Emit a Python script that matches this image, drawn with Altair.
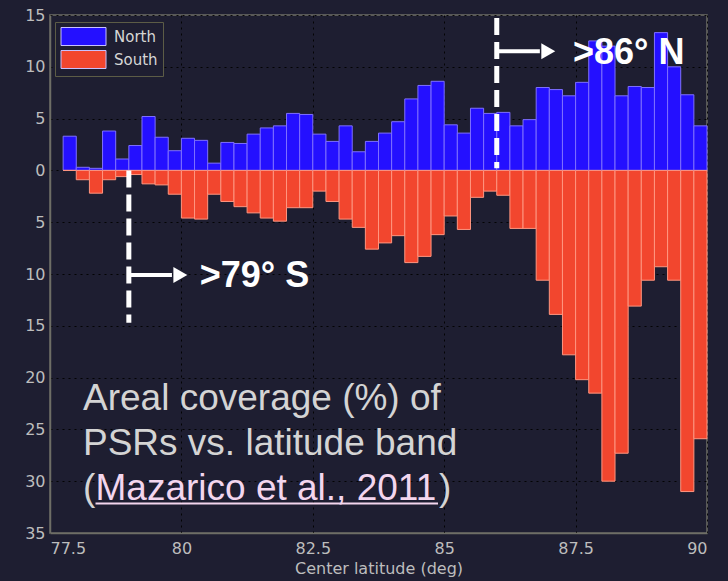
import altair as alt
import pandas as pd

# Centre latitude of each 0.25-degree band
band_center = [
    77.875, 78.125, 78.375, 78.625, 78.875, 79.125, 79.375, 79.625, 79.875,
    80.125, 80.375, 80.625, 80.875, 81.125, 81.375, 81.625, 81.875,
    82.125, 82.375, 82.625, 82.875, 83.125, 83.375, 83.625, 83.875,
    84.125, 84.375, 84.625, 84.875, 85.125, 85.375, 85.625, 85.875,
    86.125, 86.375, 86.625, 86.875, 87.125, 87.375, 87.625, 87.875,
    88.125, 88.375, 88.625, 88.875, 89.125, 89.375, 89.625, 89.875,
]

# Areal coverage of permanently shadowed regions (%) per band
north = [
    3.3, 0.3, 0.2, 3.8, 1.1, 2.4, 5.2, 3.2, 1.9,
    3.1, 2.9, 0.7, 2.7, 2.6, 3.5, 4.1, 4.3,
    5.5, 5.4, 3.5, 2.8, 4.3, 1.8, 2.8, 3.6,
    4.7, 6.9, 8.2, 8.6, 4.4, 3.6, 6.0, 5.5,
    5.6, 4.3, 4.9, 8.0, 7.8, 7.2, 8.5, 12.5,
    12.0, 7.2, 8.1, 8.0, 13.3, 10.0, 7.3, 4.3,
]
south = [
    0.0, 0.9, 2.2, 0.9, 0.6, 0.4, 1.3, 1.4, 2.3,
    4.6, 4.7, 2.3, 3.0, 3.5, 4.1, 4.6, 4.9,
    3.6, 3.6, 2.0, 3.0, 4.7, 5.5, 7.6, 7.0,
    6.3, 8.9, 8.3, 6.2, 4.4, 5.7, 2.6, 2.0,
    2.4, 5.6, 5.6, 10.6, 13.9, 17.8, 20.2, 21.5,
    30.0, 27.3, 13.1, 10.6, 9.3, 10.6, 31.0, 25.9,
]

band_width = 0.25
series_names = ["North", "South"]
fill_colors = ["#2410ff", "#f2462e"]
edge_colors = ["#7f70ff", "#ff9680"]

# Threshold markers: latitude, dashed extent, arrow height, label
marker_lat = [86.0, 79.0]
marker_top = [14.7, 0.0]
marker_bottom = [0.2, -14.7]
arrow_y = [11.5, -10.1]
arrow_len = [0.82, 0.82]
label_lat = [87.45, 80.35]
label_y = [10.25, -11.3]
marker_text = [">86° N", ">79° S"]

BG = "#1e1e31"
AXIS_GREY = "#6e6e66"
LABEL_GREY = "#bdbdbd"
CAPTION_GREY = "#d4d4d4"
CITE_PINK = "#f3d6ee"

rows = []
for c, n, s in zip(band_center, north, south):
    rows.append({"lo": c - band_width / 2, "hi": c + band_width / 2,
                 "value": n, "base": 0.0, "series": "North"})
    rows.append({"lo": c - band_width / 2, "hi": c + band_width / 2,
                 "value": -s, "base": 0.0, "series": "South"})
bars_df = pd.DataFrame(rows)

markers_df = pd.DataFrame({
    "lat": marker_lat,
    "top": marker_top,
    "bottom": marker_bottom,
    "arrow_y": arrow_y,
    "arrow_end": [m + a for m, a in zip(marker_lat, arrow_len)],
    "head": [m + a + 0.16 for m, a in zip(marker_lat, arrow_len)],
    "label_lat": label_lat,
    "label_y": label_y,
    "text": marker_text,
})

x_scale = alt.Scale(domain=[77.5, 90], nice=False, zero=False)
y_scale = alt.Scale(domain=[-35, 15], nice=False, zero=False)

x_axis = alt.Axis(
    values=[77.5, 80, 82.5, 85, 87.5, 90], labelExpr="'' + datum.value",
    title="Center latitude (deg)", grid=True, ticks=False,
    labelPadding=7, titlePadding=4, titleFontSize=16,
)
y_axis = alt.Axis(
    values=[-35, -30, -25, -20, -15, -10, -5, 0, 5, 10, 15],
    labelExpr="abs(datum.value)", title=None, grid=True, ticks=False,
    labelPadding=5,
)

bars = alt.Chart(bars_df).mark_rect(strokeWidth=1).encode(
    x=alt.X("lo:Q", scale=x_scale, axis=x_axis),
    x2="hi:Q",
    y=alt.Y("value:Q", scale=y_scale, axis=y_axis),
    y2="base:Q",
    color=alt.Color(
        "series:N",
        scale=alt.Scale(domain=series_names, range=fill_colors),
        legend=alt.Legend(
            title=None, orient="none", legendX=5, legendY=7,
            symbolType="M-2.5,-1H2.5V1H-2.5Z", symbolSize=324,
            symbolStrokeColor="#c8c0ff", symbolStrokeWidth=1,
            symbolOffset=14, labelOffset=21,
            fillColor=BG, strokeColor="#5c5c46", padding=5, rowPadding=0,
            labelColor="#d6d6d6", labelFont="DejaVu Sans", labelFontSize=15,
        ),
    ),
    stroke=alt.Stroke(
        "series:N",
        scale=alt.Scale(domain=series_names, range=edge_colors),
        legend=None,
    ),
)

dashes = alt.Chart(markers_df).mark_rule(
    color="white", strokeWidth=5, strokeDash=[17, 7]
).encode(
    x=alt.X("lat:Q", scale=x_scale),
    y=alt.Y("top:Q", scale=y_scale),
    y2="bottom:Q",
)

arrows = alt.Chart(markers_df).mark_rule(color="white", strokeWidth=4).encode(
    x=alt.X("lat:Q", scale=x_scale),
    x2="arrow_end:Q",
    y=alt.Y("arrow_y:Q", scale=y_scale),
)

heads = alt.Chart(markers_df).mark_point(
    shape="triangle-right", filled=True, color="white", opacity=1, size=260
).encode(
    x=alt.X("head:Q", scale=x_scale),
    y=alt.Y("arrow_y:Q", scale=y_scale),
)

marker_labels = alt.Chart(markers_df).mark_text(
    color="white", font="Liberation Sans", fontWeight="bold", fontSize=36,
    align="left", baseline="alphabetic",
).encode(
    x=alt.X("label_lat:Q", scale=x_scale),
    y=alt.Y("label_y:Q", scale=y_scale),
    text="text:N",
)

# Caption in the lower-left of the plot (pixel offsets within the plot area)
caption_df = pd.DataFrame({
    "text": ["Areal coverage (%) of", "PSRs vs. latitude band", "(",
             "Mazarico et al., 2011", ")"],
    "px": [33, 33, 33, 45.5, 389],
    "py": [395, 440, 485, 485, 485],
    "kind": ["plain", "plain", "plain", "cite", "plain"],
})
caption = alt.Chart(caption_df).mark_text(
    font="Liberation Sans", fontSize=37, align="left", baseline="alphabetic",
).encode(
    x=alt.X("px:Q", scale=None),
    y=alt.Y("py:Q", scale=None),
    text="text:N",
    color=alt.Color("kind:N", scale=alt.Scale(domain=["plain", "cite"],
                                              range=[CAPTION_GREY, CITE_PINK]),
                    legend=None),
)
underline = alt.Chart(caption_df.iloc[[3]]).mark_rule(
    color=CITE_PINK, strokeWidth=2
).encode(
    x=alt.value(45.5), x2=alt.value(388), y=alt.value(488.5),
)

chart = alt.layer(
    bars, dashes, arrows, heads, marker_labels, caption, underline
).resolve_scale(color="independent").properties(
    width=657, height=518,
    background=BG,
    padding={"left": 50, "top": 15, "right": 21, "bottom": 48},
    autosize=alt.AutoSizeParams(type="none"),
).configure_view(
    stroke=AXIS_GREY, strokeWidth=1.5,
).configure_axis(
    domainColor=AXIS_GREY, domainWidth=1.5,
    gridColor="#000000", gridDash=[2, 4], gridOpacity=0.9, gridWidth=1,
    labelColor=LABEL_GREY, labelFont="DejaVu Sans", labelFontSize=16,
    titleColor=LABEL_GREY, titleFont="DejaVu Sans",
    titleFontWeight="normal",
)

chart.save("out.html", embed_options={"renderer": "svg", "actions": False})
